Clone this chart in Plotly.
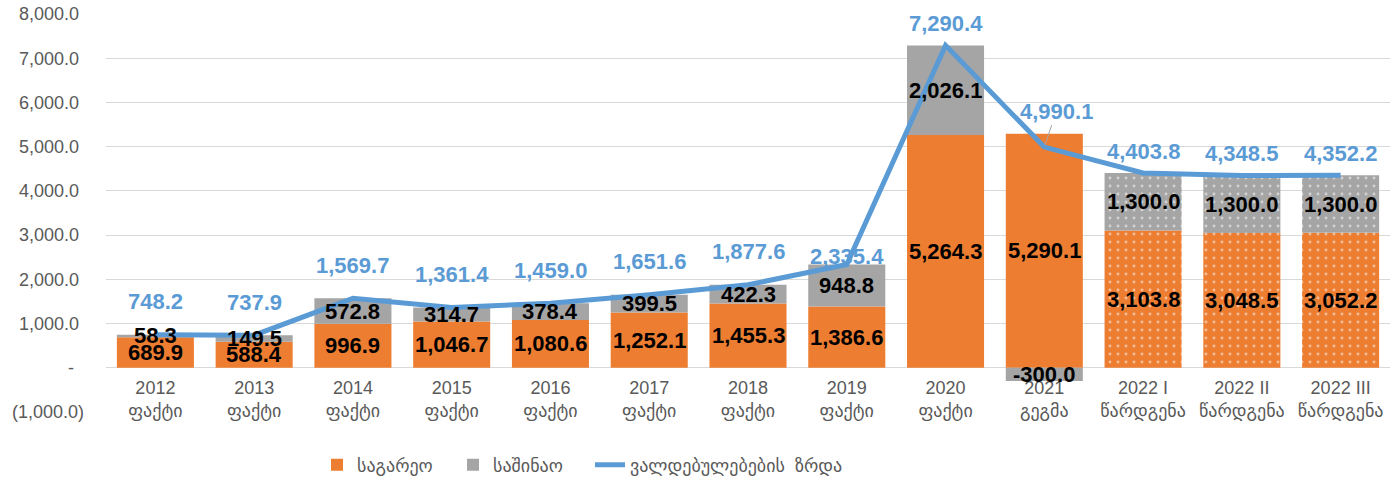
import plotly.graph_objects as go

years = ["2012", "2013", "2014", "2015", "2016", "2017", "2018", "2019", "2020", "2021", "2022 I", "2022 II", "2022 III"]
kinds = ["ფაქტი"] * 9 + ["გეგმა"] + ["წარდგენა"] * 3
external = [689.9, 588.4, 996.9, 1046.7, 1080.6, 1252.1, 1455.3, 1386.6, 5264.3, 5290.1, 3103.8, 3048.5, 3052.2]
domestic = [58.3, 149.5, 572.8, 314.7, 378.4, 399.5, 422.3, 948.8, 2026.1, -300.0, 1300.0, 1300.0, 1300.0]
growth = [748.2, 737.9, 1569.7, 1361.4, 1459.0, 1651.6, 1877.6, 2335.4, 7290.4, 4990.1, 4403.8, 4348.5, 4352.2]
y_ticks = [-1000, 0, 1000, 2000, 3000, 4000, 5000, 6000, 7000, 8000]
names = ["საგარეო", "საშინაო", "ვალდებულებების  ზრდა"]

cats = [f"{y}<br>{k}" for y, k in zip(years, kinds)]

ORANGE = "#ED7D31"
GRAY = "#A5A5A5"
BLUE = "#5B9BD5"
FONT = "Liberation Sans, DejaVu Sans, sans-serif"
NB = "\u00a0"

patterned = [k == "წარდგენა" for k in kinds]
pat_shapes = ["." if p else "" for p in patterned]


def fmt(v):
    if v == 0:
        return "-" + NB * 2
    s = f"{abs(v):,.1f}"
    return f"({s})" if v < 0 else s + NB


W, H = 1399, 481
L, R, T, B = 106, 9, 14, 69
PW = W - L - R
PH = H - T - B

fig = go.Figure()
fig.add_trace(go.Bar(
    x=cats, y=external, name=names[0], legend="legend",
    marker=dict(color=ORANGE, line=dict(width=0),
                pattern=dict(shape=pat_shapes, fgcolor="white", bgcolor=ORANGE,
                             size=8, solidity=0.1, fillmode="overlay")),
))
fig.add_trace(go.Bar(
    x=cats, y=domestic, name=names[1], legend="legend",
    marker=dict(color=GRAY, line=dict(width=0),
                pattern=dict(shape=pat_shapes, fgcolor="white", bgcolor=GRAY,
                             size=8, solidity=0.1, fillmode="overlay")),
))
fig.add_trace(go.Scatter(
    x=cats, y=growth, name=names[2], mode="lines", legend="legend2",
    line=dict(color=BLUE, width=5),
))

LBL = 22
annotations = []
for i, c in enumerate(cats):
    e, d, g = external[i], domestic[i], growth[i]
    annotations.append(dict(x=c, y=e / 2, text=f"<b>{e:,.1f}</b>", showarrow=False,
                            font=dict(family=FONT, size=LBL, color="black")))
    dy = e + d / 2 if d > 0 else d / 2
    annotations.append(dict(x=c, y=dy, text=f"<b>{d:,.1f}</b>", showarrow=False,
                            font=dict(family=FONT, size=LBL, color="black")))
    if years[i] == "2021":
        annotations.append(dict(x=c, y=g, text=f"<b>{g:,.1f}</b>", showarrow=True,
                                arrowhead=0, arrowwidth=1, arrowcolor="#A5A5A5",
                                ax=12, ay=-36, standoff=2,
                                font=dict(family=FONT, size=LBL, color=BLUE)))
    else:
        shift = 33
        if years[i] == "2019":
            shift = 8
        elif years[i] == "2020":
            shift = 22
        elif kinds[i] == "წარდგენა":
            shift = 22
        annotations.append(dict(x=c, y=g, text=f"<b>{g:,.1f}</b>", showarrow=False,
                                yshift=shift,
                                font=dict(family=FONT, size=LBL, color=BLUE)))

leg_font = dict(family=FONT, size=18, color="#595959")
leg_y = -(465 - (T + PH)) / PH
fig.update_layout(
    width=W, height=H,
    barmode="relative", bargap=0.22,
    plot_bgcolor="white", paper_bgcolor="white",
    margin=dict(l=L, r=R, t=T, b=B, autoexpand=False),
    font=dict(family=FONT, size=18, color="#595959"),
    annotations=annotations,
    showlegend=True,
    legend=dict(orientation="h", x=(317 - L) / PW, xanchor="left", y=leg_y, yanchor="middle",
                font=leg_font, entrywidth=91, entrywidthmode="pixels",
                traceorder="normal", bgcolor="rgba(0,0,0,0)"),
    legend2=dict(orientation="h", x=(590 - L) / PW, xanchor="left", y=leg_y, yanchor="middle",
                 font=leg_font, bgcolor="rgba(0,0,0,0)"),
)
fig.update_xaxes(
    type="category", anchor="free", position=1000 / 9000,
    showgrid=False, showline=False, ticks="",
    tickfont=dict(family=FONT, size=18, color="#595959"),
    ticklabelstandoff=7,
)
fig.update_yaxes(
    range=[-1000, 8000], tickvals=y_ticks, ticktext=[fmt(v) for v in y_ticks],
    showgrid=True, gridcolor="#D9D9D9", gridwidth=1,
    zeroline=True, zerolinecolor="#D9D9D9", zerolinewidth=1,
    tickfont=dict(family=FONT, size=18, color="#595959"),
    ticks="", ticklabelstandoff=21, ticklabeloverflow="allow",
)

fig.write_html("out.html",
               config={"displayModeBar": False},
               post_script="document.body.style.margin='0px';document.body.style.overflow='hidden';")
